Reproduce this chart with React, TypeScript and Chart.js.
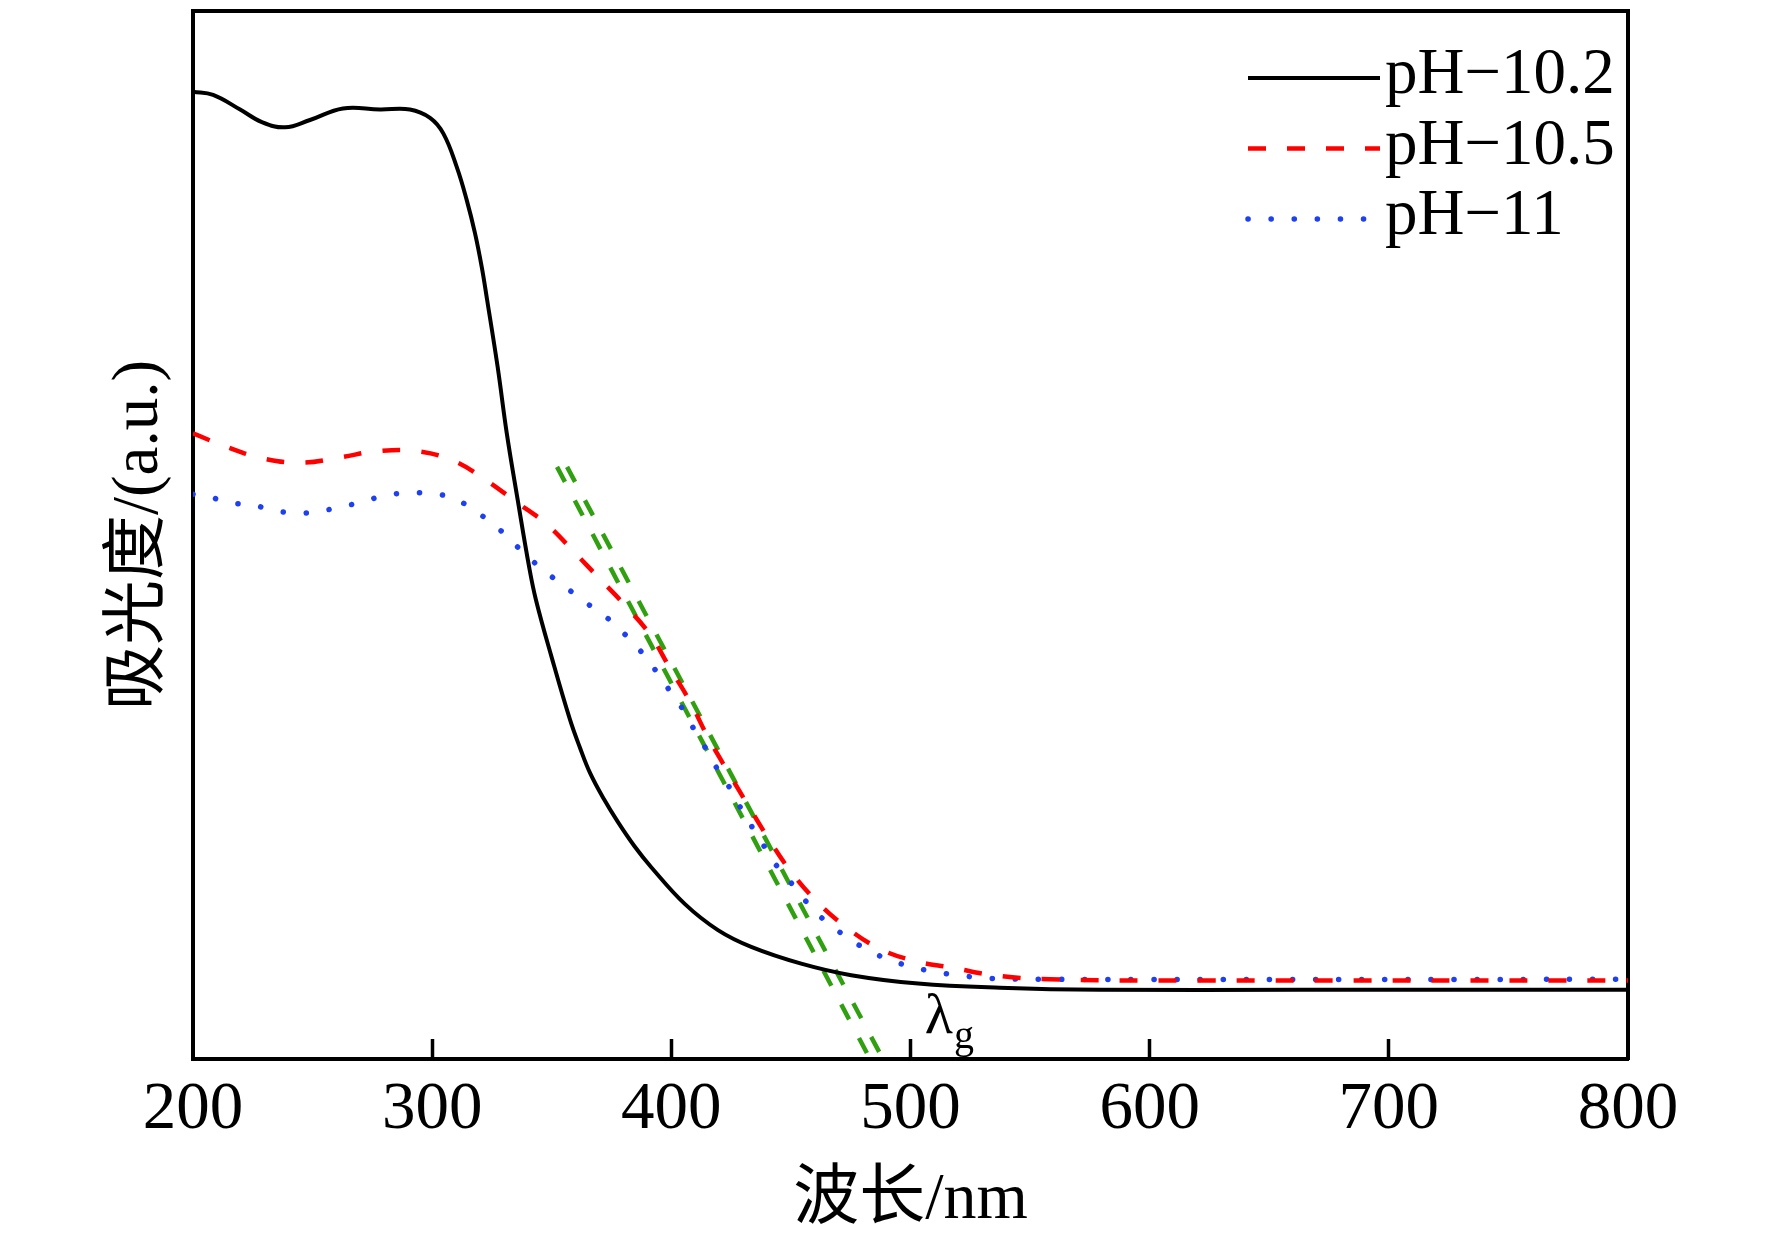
import React, { useEffect, useRef } from 'react';
import { Chart, registerables } from 'chart.js';

Chart.register(...registerables);

// ---- Data ----
const xTickValues = [200, 300, 400, 500, 600, 700, 800];
const seriesNames = ['pH\u221210.2', 'pH\u221210.5', 'pH\u221211'];

const wl102 = [200, 208.4, 219.7, 228.8, 238.5, 248.9, 262.7, 278.2, 290.7, 299.1, 304.7, 310.3, 314.4, 317.9, 320.7, 323.0, 327.4, 331.2, 335.8, 340.5, 343.4, 350.0, 357.6, 361.8, 366.0, 371.8, 377.7, 384.6, 391.6, 405.6, 419.5, 433.4, 454.3, 475.2, 503.2, 537.4, 579.2, 662.8, 800];
const abs102 = [0.923, 0.920, 0.906, 0.894, 0.889, 0.896, 0.907, 0.906, 0.906, 0.898, 0.883, 0.851, 0.820, 0.788, 0.756, 0.724, 0.660, 0.597, 0.533, 0.470, 0.438, 0.383, 0.324, 0.297, 0.273, 0.248, 0.226, 0.203, 0.183, 0.148, 0.123, 0.107, 0.091, 0.080, 0.072, 0.068, 0.066, 0.066, 0.066];

const wl105 = [200, 214.2, 229.3, 245.6, 261.5, 276.9, 293.7, 308.7, 322.1, 335.5, 348.0, 359.7, 369.3, 380.6, 391.1, 399.4, 407.8, 415.3, 423.7, 432.1, 440.4, 449.6, 460.1, 471.8, 486.4, 501.0, 517.8, 534.5, 558.3, 621.0, 800];
const abs105 = [0.597, 0.584, 0.573, 0.569, 0.574, 0.580, 0.580, 0.571, 0.553, 0.531, 0.510, 0.483, 0.460, 0.433, 0.405, 0.373, 0.341, 0.307, 0.274, 0.242, 0.211, 0.180, 0.152, 0.128, 0.106, 0.094, 0.087, 0.080, 0.076, 0.075, 0.075];

const wl11 = [200, 205.0, 214.6, 224.3, 233.0, 242.2, 251.4, 260.2, 269.8, 279.0, 288.2, 297.8, 306.2, 314.1, 321.7, 328.8, 335.5, 342.6, 350.1, 357.6, 365.2, 373.1, 379.8, 386.5, 392.4, 398.2, 403.6, 408.6, 413.2, 417.8, 423.3, 427.9, 432.5, 437.5, 442.5, 448.4, 454.6, 461.3, 469.3, 476.8, 485.6, 494.4, 504.0, 513.2, 523.2, 532.0, 558.3, 800];
const abs11 = [0.539, 0.538, 0.531, 0.529, 0.524, 0.521, 0.522, 0.526, 0.531, 0.537, 0.540, 0.540, 0.537, 0.529, 0.517, 0.504, 0.489, 0.474, 0.460, 0.447, 0.434, 0.421, 0.407, 0.391, 0.374, 0.355, 0.338, 0.318, 0.301, 0.282, 0.263, 0.244, 0.226, 0.208, 0.189, 0.173, 0.155, 0.138, 0.123, 0.111, 0.100, 0.092, 0.086, 0.082, 0.079, 0.077, 0.076, 0.076];

// two parallel tangent lines (green dashed)
const tangentAx = [352.2, 483.1];
const tangentAy = [0.565, 0.0];
const tangentBx = [356.4, 488.5];
const tangentBy = [0.565, 0.0];

// label for the band-gap wavelength (x in nm, y in a.u.)
const gapLabelPos = [506, 0.025];

const toPoints = (xs: number[], ys: number[]) => xs.map((x, i) => ({ x, y: ys[i] }));

const SERIF = '"Liberation Serif", "Times New Roman", "Noto Sans CJK SC", serif';

const overlayPlugin = {
  id: 'overlayPlugin',
  afterDatasetsDraw(chart: any) {
    const { ctx, chartArea, scales } = chart;
    ctx.save();
    // legend
    const x0 = chartArea.right - 380;
    const x1 = chartArea.right - 248;
    for (let i = 0; i < 3; i++) {
      const ds = chart.data.datasets[i];
      const y = chartArea.top + 67 + i * 70.5;
      ctx.beginPath();
      ctx.setLineDash(ds.borderDash || []);
      ctx.lineCap = ds.borderCapStyle || 'butt';
      ctx.lineWidth = ds.borderWidth;
      ctx.strokeStyle = ds.borderColor;
      ctx.moveTo(x0, y);
      ctx.lineTo(x1, y);
      ctx.stroke();
      ctx.setLineDash([]);
      ctx.font = '65px ' + SERIF;
      ctx.fillStyle = '#000';
      ctx.textAlign = 'left';
      ctx.textBaseline = 'alphabetic';
      ctx.fillText(ds.label, x1 + 5, y + 15);
    }
    // lambda_g label
    const px = scales.x.getPixelForValue(gapLabelPos[0]);
    const py = scales.y.getPixelForValue(gapLabelPos[1]);
    ctx.fillStyle = '#000';
    ctx.textAlign = 'left';
    ctx.textBaseline = 'alphabetic';
    ctx.font = '58px ' + SERIF;
    ctx.fillText('\u03bb', px, py);
    const w = ctx.measureText('\u03bb').width;
    ctx.font = '40px ' + SERIF;
    ctx.fillText('g', px + w + 1, py + 15);
    ctx.restore();
  },
};

export default function App() {
  const canvasRef = useRef<HTMLCanvasElement | null>(null);

  useEffect(() => {
    if (!canvasRef.current) return;
    const chart = new Chart(canvasRef.current, {
      type: 'line',
      data: {
        datasets: [
          {
            label: seriesNames[0],
            data: toPoints(wl102, abs102),
            borderColor: '#000000',
            borderWidth: 4,
            pointRadius: 0,
            tension: 0.4,
            fill: false,
          },
          {
            label: seriesNames[1],
            data: toPoints(wl105, abs105),
            borderColor: '#ff0000',
            borderWidth: 4.5,
            borderDash: [18, 21],
            pointRadius: 0,
            tension: 0.4,
            fill: false,
          },
          {
            label: seriesNames[2],
            data: toPoints(wl11, abs11),
            borderColor: '#1e40f0',
            borderWidth: 5.5,
            borderDash: [0.1, 23],
            borderCapStyle: 'round',
            pointRadius: 0,
            tension: 0.4,
            fill: false,
          },
          {
            label: 'tangentA',
            data: toPoints(tangentAx, tangentAy),
            borderColor: '#31a010',
            borderWidth: 4.5,
            borderDash: [17, 21],
            pointRadius: 0,
            fill: false,
          },
          {
            label: 'tangentB',
            data: toPoints(tangentBx, tangentBy),
            borderColor: '#31a010',
            borderWidth: 4.5,
            borderDash: [17, 21],
            pointRadius: 0,
            fill: false,
          },
        ],
      },
      options: {
        responsive: false,
        maintainAspectRatio: false,
        devicePixelRatio: 1,
        animation: false,
        layout: { padding: 0 },
        plugins: {
          legend: { display: false },
          tooltip: { enabled: false },
        },
        scales: {
          x: {
            type: 'linear',
            position: 'bottom',
            min: xTickValues[0],
            max: xTickValues[xTickValues.length - 1],
            afterBuildTicks: (scale: any) => {
              scale.ticks = xTickValues.map((v) => ({ value: v }));
            },
            afterFit: (scale: any) => {
              scale.height = 190;
            },
            ticks: {
              color: '#000',
              font: { family: SERIF, size: 67 },
              padding: 31,
              maxRotation: 0,
              autoSkip: false,
            },
            grid: {
              display: true,
              drawOnChartArea: false,
              drawTicks: true,
              tickLength: -20,
              tickWidth: 3.5,
              tickColor: (ctx: any) =>
                ctx.tick && (ctx.tick.value === xTickValues[0] || ctx.tick.value === xTickValues[xTickValues.length - 1])
                  ? 'rgba(0,0,0,0)'
                  : '#000',
            },
            border: { display: true, color: '#000', width: 4 },
            title: {
              display: true,
              text: '波长/nm',
              color: '#000',
              font: { family: SERIF, size: 66 },
              padding: { top: 0, bottom: 9 },
            },
          },
          x2: {
            type: 'linear',
            position: 'top',
            min: xTickValues[0],
            max: xTickValues[xTickValues.length - 1],
            afterFit: (scale: any) => {
              scale.height = 11;
            },
            ticks: { display: false },
            grid: { display: true, drawOnChartArea: false, drawTicks: false },
            border: { display: true, color: '#000', width: 4 },
          },
          y: {
            type: 'linear',
            position: 'left',
            min: 0,
            max: 1,
            afterFit: (scale: any) => {
              scale.width = 193;
            },
            ticks: { display: false },
            grid: { display: true, drawOnChartArea: false, drawTicks: false },
            border: { display: true, color: '#000', width: 4 },
            title: {
              display: true,
              text: '吸光度/(a.u.)',
              color: '#000',
              font: { family: SERIF, size: 65 },
              padding: { top: 101, bottom: 0 },
            },
          },
          y2: {
            type: 'linear',
            position: 'right',
            min: 0,
            max: 1,
            afterFit: (scale: any) => {
              scale.width = 144;
            },
            ticks: { display: false },
            grid: { display: true, drawOnChartArea: false, drawTicks: false },
            border: { display: true, color: '#000', width: 4 },
          },
        },
      } as any,
      plugins: [overlayPlugin],
    });
    return () => {
      chart.destroy();
    };
  }, []);

  return (
    <div style={{ position: 'fixed', left: 0, top: 0, width: 1772, height: 1249, background: '#fff' }}>
      <canvas ref={canvasRef} width={1772} height={1249} style={{ display: 'block', width: 1772, height: 1249 }} />
    </div>
  );
}
